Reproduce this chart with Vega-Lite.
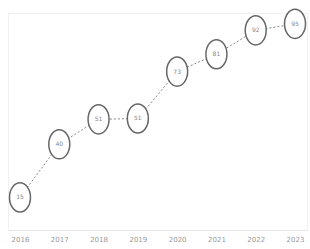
{
  "$schema": "https://vega.github.io/schema/vega-lite/v6.json",
  "width": 310,
  "height": 249,
  "autosize": {"type": "fit", "contains": "padding"},
  "padding": {"left": 6, "right": 1, "top": 7, "bottom": 7},
  "config": {"view": {"stroke": "#f0f0f0"}, "font": "DejaVu Sans"},
  "data": {"values": [
    {"label": "2016", "value": 15},
    {"label": "2017", "value": 39.5},
    {"label": "2018", "value": 51},
    {"label": "2019", "value": 51.4},
    {"label": "2020", "value": 73},
    {"label": "2021", "value": 81},
    {"label": "2022", "value": 92},
    {"label": "2023", "value": 95}
  ]},
  "encoding": {
    "x": {"field": "label", "type": "ordinal", "scale": {"type": "point", "padding": 0.305},
      "axis": {"title": null, "labelAngle": 0, "labelFontSize": 7, "labelColor": "#999999", "domainColor": "#e4e4e4", "ticks": false, "grid": false, "labelPadding": 5}},
    "y": {"field": "value", "type": "quantitative", "scale": {"domain": [0, 100]}, "axis": null}
  },
  "layer": [
    {"mark": {"type": "line", "color": "#888888", "strokeWidth": 1, "strokeDash": [2, 2]}},
    {"mark": {"type": "point", "shape": "M0,-1 A0.72,1 0 1,1 0,1 A0.72,1 0 1,1 0,-1 Z", "size": 850, "filled": true, "fill": "#ffffff", "stroke": "#666666", "strokeWidth": 1.5, "opacity": 1}},
    {"mark": {"type": "text", "fontSize": 6, "color": "#888888"}, "encoding": {"text": {"field": "value", "type": "quantitative", "format": ".0f"}}}
  ]
}
